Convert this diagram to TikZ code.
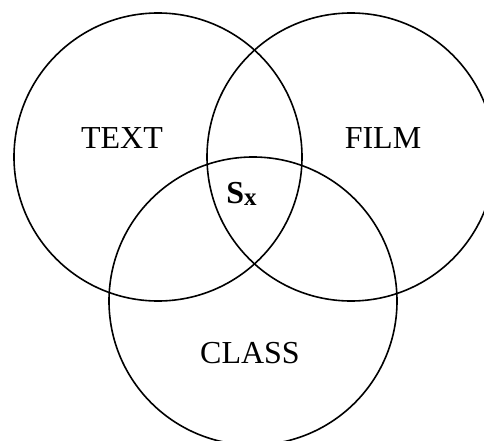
\documentclass[tikz,border=0pt]{standalone}
\usepackage{fontspec}
\setmainfont{Liberation Serif}
\usepackage{tikz}
\usetikzlibrary{positioning}

\begin{document}
\begin{tikzpicture}[
  x=1pt,y=-1pt,
  setcircle/.style={circle,draw,line width=1.6pt,minimum size=288pt,inner sep=0pt},
  setlabel/.style={anchor=base,inner sep=0pt,font=\fontsize{32}{36}\selectfont}
]
\useasboundingbox (0,0) rectangle (484,441);
\clip (0,0) rectangle (484,441);

\node[setcircle] (textset) at (158,157) {};
\node[setcircle] (filmset) at (351,157) {};
\node[setcircle] (classset) at (253,301) {};

\node[setlabel] (textlbl) at (122,148) {TEXT};
\node[setlabel] (filmlbl) at (383,148) {FILM};
\node[setlabel] (classlbl) at (250,363) {CLASS};
\node[setlabel,font=\fontsize{32}{36}\selectfont\bfseries] (sxlbl) at (241.5,203)
  {S\raisebox{-2.5pt}{\fontsize{25}{28}\selectfont x}};
\end{tikzpicture}
\end{document}
